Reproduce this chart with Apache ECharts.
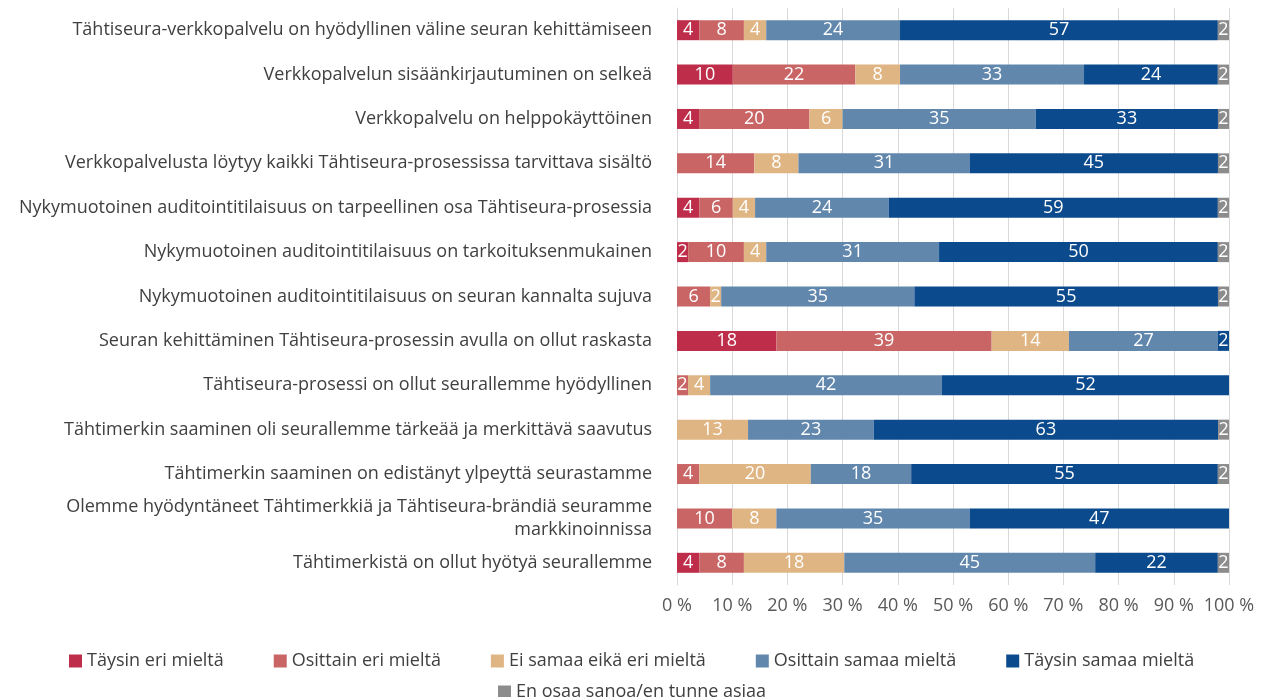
<!DOCTYPE html>
<html><head><meta charset="utf-8">
<script src="https://cdn.jsdelivr.net/npm/echarts@6/dist/echarts.min.js"></script>
<style>html,body{margin:0;padding:0;background:#fff}#c{width:1275px;height:697px}</style>
</head><body><div id="c"></div>
<script>
const categories = [
  "Tähtiseura-verkkopalvelu on hyödyllinen väline seuran kehittämiseen",
  "Verkkopalvelun sisäänkirjautuminen on selkeä",
  "Verkkopalvelu on helppokäyttöinen",
  "Verkkopalvelusta löytyy kaikki Tähtiseura-prosessissa tarvittava sisältö",
  "Nykymuotoinen auditointitilaisuus on tarpeellinen osa Tähtiseura-prosessia",
  "Nykymuotoinen auditointitilaisuus on tarkoituksenmukainen",
  "Nykymuotoinen auditointitilaisuus on seuran kannalta sujuva",
  "Seuran kehittäminen Tähtiseura-prosessin avulla on ollut raskasta",
  "Tähtiseura-prosessi on ollut seurallemme hyödyllinen",
  "Tähtimerkin saaminen oli seurallemme tärkeää ja merkittävä saavutus",
  "Tähtimerkin saaminen on edistänyt ylpeyttä seurastamme",
  "Olemme hyödyntäneet Tähtimerkkiä ja Tähtiseura-brändiä seuramme\nmarkkinoinnissa",
  "Tähtimerkistä on ollut hyötyä seurallemme"
];
const seriesNames = ["Täysin eri mieltä","Osittain eri mieltä","Ei samaa eikä eri mieltä","Osittain samaa mieltä","Täysin samaa mieltä","En osaa sanoa/en tunne asiaa"];
const taysinEri   = [4,10,4,0,4,2,0,18,0,0,0,0,4];
const osittainEri = [8,22,20,14,6,10,6,39,2,0,4,10,8];
const eiSamaa     = [4,8,6,8,4,4,2,14,4,13,20,8,18];
const osittainSam = [24,33,35,31,24,31,35,27,42,23,18,35,45];
const taysinSam   = [57,24,33,45,59,50,55,2,52,63,55,47,22];
const enOsaa      = [2,2,2,2,2,2,2,0,0,2,2,0,2];
const xTicks = [0,10,20,30,40,50,60,70,80,90,100];
const colors = ["#be2e4b","#c96565","#e0b584","#6187ad","#0b4a8c","#8c8c8c"];

const all = [taysinEri,osittainEri,eiSamaa,osittainSam,taysinSam,enOsaa];
const totals = categories.map((_,i)=>all.reduce((s,a)=>s+a[i],0));
const FONT = "Open Sans";
const FS = 18;
const series = all.map((arr,k)=>({
  name: seriesNames[k], type:'bar', stack:'t', barWidth:20,
  itemStyle:{color:colors[k]},
  data: arr.map((v,i)=>({value: v/totals[i]*100, raw:v})),
  label:{show:true, position:'inside', color:'#fff', fontFamily:FONT, fontSize:FS,
    formatter:p=> p.data.raw>0 ? String(p.data.raw) : ''}
}));

const chart = echarts.init(document.getElementById('c'), null, {renderer:'canvas'});
chart.setOption({
  animation:false,
  textStyle:{fontFamily:FONT},
  grid:{left:677,right:46,top:8,bottom:112,containLabel:false},
  xAxis:{type:'value',min:xTicks[0],max:xTicks[xTicks.length-1],interval:10,
    axisLabel:{formatter:v=>v+' %',color:'#595959',fontFamily:FONT,fontSize:FS,margin:12},
    splitLine:{show:true,lineStyle:{color:'#d9d9d9',width:1}},
    axisLine:{show:false},axisTick:{show:false}},
  yAxis:{type:'category',inverse:true,data:categories,
    axisLine:{show:true,lineStyle:{color:'#d9d9d9'}},axisTick:{show:false},
    axisLabel:{color:'#404040',fontFamily:FONT,fontSize:FS,margin:25,lineHeight:23,align:'right'}},
  legend:[
    {data:seriesNames.slice(0,5),left:64,top:647,itemWidth:13,itemHeight:13,itemGap:50,icon:'rect',
      textStyle:{color:'#404040',fontFamily:FONT,fontSize:FS}},
    {data:seriesNames.slice(5),left:493,top:678,itemWidth:13,itemHeight:13,icon:'rect',
      textStyle:{color:'#404040',fontFamily:FONT,fontSize:FS}}
  ],
  series
});
</script></body></html>
